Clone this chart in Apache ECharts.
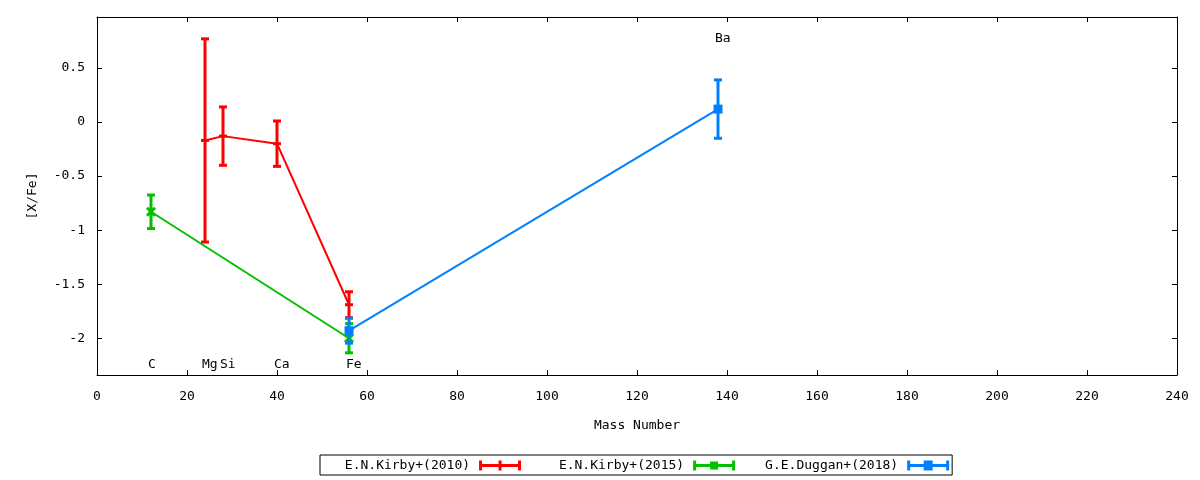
<!DOCTYPE html>
<html><head><meta charset="utf-8">
<script src="https://cdn.jsdelivr.net/npm/echarts@6/dist/echarts.min.js"></script>
<style>html,body{margin:0;padding:0;background:#fff}#c{width:1200px;height:480px}</style>
</head><body><div id="c"></div>
<script>
// ---- data ----
const seriesNames = ['E.N.Kirby+(2010)', 'E.N.Kirby+(2015)', 'G.E.Duggan+(2018)'];
const seriesColors = ['#ff0000', '#00c000', '#0080ff'];

const kirby2010Mass = [24, 28, 40, 56];
const kirby2010Val  = [-0.17, -0.13, -0.20, -1.69];
const kirby2010Err  = [0.94, 0.27, 0.21, 0.12];

const kirby2015Mass = [12, 56];
const kirby2015Val  = [-0.83, -2.00];
const kirby2015Err  = [0.155, 0.135];

const duggan2018Mass = [56, 138];
const duggan2018Val  = [-1.93, 0.12];
const duggan2018Err  = [0.115, 0.27];

const elementNames  = ['C', 'Mg', 'Si', 'Ca', 'Fe', 'Ba'];
const elementMass   = [12, 24, 28, 40, 56, 138];
const elementLabelY = [-2.24, -2.24, -2.24, -2.24, -2.24, 0.77];

const xTickValues = [0, 20, 40, 60, 80, 100, 120, 140, 160, 180, 200, 220, 240];
const yTickValues = [-2, -1.5, -1, -0.5, 0, 0.5];
const yMin = -2.34, yMax = 0.972;

// ---- helpers ----
const FONT = 'DejaVu Sans Mono';
function pointData(mass, val) { return mass.map((m, i) => [m, val[i]]); }
function errorData(mass, val, err) { return mass.map((m, i) => [m, val[i], val[i] - err[i], val[i] + err[i]]); }

function makeErrorRender(color, marker) {
  return function (params, api) {
    const x = api.value(0), y = api.value(1), lo = api.value(2), hi = api.value(3);
    const t = api.coord([x, hi]), b = api.coord([x, lo]), c = api.coord([x, y]);
    const hw = 4;
    const st = { stroke: color, lineWidth: 3 };
    const ch = [
      { type: 'line', shape: { x1: t[0], y1: t[1], x2: b[0], y2: b[1] }, style: st },
      { type: 'line', shape: { x1: t[0] - hw, y1: t[1], x2: t[0] + hw, y2: t[1] }, style: st },
      { type: 'line', shape: { x1: b[0] - hw, y1: b[1], x2: b[0] + hw, y2: b[1] }, style: st }
    ];
    if (marker === 'plus') {
      ch.push({ type: 'line', shape: { x1: c[0] - 4, y1: c[1], x2: c[0] + 4, y2: c[1] }, style: st });
    } else if (marker === 'cross') {
      ch.push({ type: 'line', shape: { x1: c[0] - 4, y1: c[1] - 4, x2: c[0] + 4, y2: c[1] + 4 }, style: st });
      ch.push({ type: 'line', shape: { x1: c[0] - 4, y1: c[1] + 4, x2: c[0] + 4, y2: c[1] - 4 }, style: st });
    } else {
      ch.push({ type: 'rect', shape: { x: c[0] - 4.5, y: c[1] - 4.5, width: 9, height: 9 }, style: { fill: color } });
    }
    return { type: 'group', children: ch };
  };
}

const legendIcons = [
  'path://M0,0H3V3.5H19.5V0H22.5V3.5H39V0H42V10H39V6.5H22.5V10H19.5V6.5H3V10H0Z',
  'path://M0,0H3V3.5H17V1H25V3.5H39V0H42V10H39V6.5H25V9H17V6.5H3V10H0Z',
  'path://M0,0H3V3.5H16.5V0H25.5V3.5H39V0H42V10H39V6.5H25.5V10H16.5V6.5H3V10H0Z'
];

const datasets = [
  [kirby2010Mass, kirby2010Val, kirby2010Err, 'plus'],
  [kirby2015Mass, kirby2015Val, kirby2015Err, 'cross'],
  [duggan2018Mass, duggan2018Val, duggan2018Err, 'square']
];

const series = [];
datasets.forEach((d, k) => {
  series.push({
    type: 'line', name: seriesNames[k], xAxisIndex: 0, yAxisIndex: 0,
    data: pointData(d[0], d[1]), symbol: 'none',
    color: seriesColors[k],
    lineStyle: { color: seriesColors[k], width: 2 },
    itemStyle: { color: seriesColors[k] }
  });
  series.push({
    type: 'custom', name: seriesNames[k], xAxisIndex: 0, yAxisIndex: 0,
    data: errorData(d[0], d[1], d[2]),
    encode: { x: 0, y: 1 },
    color: seriesColors[k],
    itemStyle: { color: seriesColors[k] },
    renderItem: makeErrorRender(seriesColors[k], d[3])
  });
});

series.push({
  type: 'custom', name: 'elements', xAxisIndex: 0, yAxisIndex: 0,
  data: elementMass.map((m, i) => [m, elementLabelY[i]]),
  encode: { x: 0, y: 1 },
  renderItem: function (params, api) {
    const c = api.coord([api.value(0), api.value(1)]);
    return {
      type: 'text', x: c[0] - 3, y: c[1],
      style: { text: elementNames[params.dataIndex], fill: '#000', font: '13px "' + FONT + '"', align: 'left', verticalAlign: 'middle' }
    };
  }
});

const axisCommon = {
  axisLine: { show: true, onZero: false, lineStyle: { color: '#000', width: 1 } },
  axisTick: { show: true, inside: true, length: 5, lineStyle: { color: '#000', width: 1 } },
  splitLine: { show: false },
  axisLabel: { color: '#000', fontFamily: FONT, fontSize: 13 }
};

const option = {
  animation: false,
  backgroundColor: '#fff',
  grid: { left: 97, right: 23, top: 17, bottom: 105 },
  xAxis: [
    Object.assign({}, axisCommon, {
      type: 'value', position: 'bottom', min: 0, max: 240, interval: 20,
      name: 'Mass Number', nameLocation: 'middle', nameGap: 44,
      nameTextStyle: { color: '#000', fontFamily: FONT, fontSize: 13 },
      axisLabel: Object.assign({}, axisCommon.axisLabel, { margin: 15, customValues: xTickValues }),
      axisTick: Object.assign({}, axisCommon.axisTick, { customValues: xTickValues })
    }),
    Object.assign({}, axisCommon, {
      type: 'value', position: 'top', min: 0, max: 240, interval: 20,
      axisLabel: { show: false }
    })
  ],
  yAxis: [
    Object.assign({}, axisCommon, {
      type: 'value', position: 'left', min: yMin, max: yMax,
      name: '[X/Fe]', nameLocation: 'middle', nameGap: 58, nameRotate: 90,
      nameTextStyle: { color: '#000', fontFamily: FONT, fontSize: 13 },
      axisLabel: Object.assign({}, axisCommon.axisLabel, { margin: 12, customValues: yTickValues }),
      axisTick: Object.assign({}, axisCommon.axisTick, { customValues: yTickValues })
    }),
    Object.assign({}, axisCommon, {
      type: 'value', position: 'right', min: yMin, max: yMax,
      axisLabel: { show: false, customValues: yTickValues },
      axisTick: Object.assign({}, axisCommon.axisTick, { customValues: yTickValues })
    })
  ],
  legend: {
    left: 320, top: 455,
    orient: 'horizontal',
    align: 'right',
    itemWidth: 42, itemHeight: 10, itemGap: 30,
    padding: [4, 3, 3, 17],
    borderColor: '#000', borderWidth: 1, borderRadius: 0,
    selectedMode: false,
    itemStyle: { borderWidth: 0 },
    textStyle: { color: '#000', fontFamily: FONT, fontSize: 13, padding: [0, 4, 0, 0] },
    formatter: name => name.padStart(17, ' '),
    data: seriesNames.map((n, k) => ({ name: n, icon: legendIcons[k], itemStyle: { color: seriesColors[k], borderWidth: 0 } }))
  },
  series: series
};

const chart = echarts.init(document.getElementById('c'), null, { renderer: 'canvas' });
chart.setOption(option);
</script>
</body></html>
